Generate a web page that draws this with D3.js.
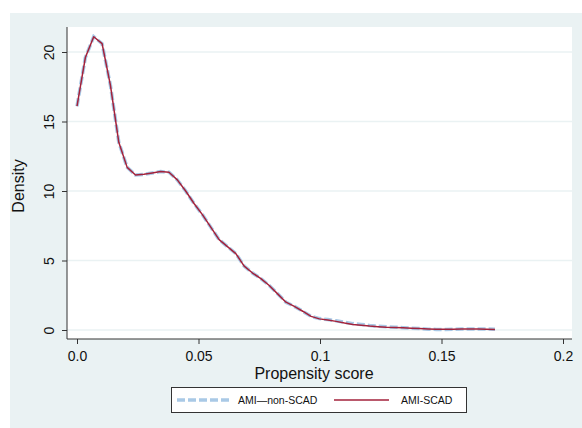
<!DOCTYPE html>
<html>
<head>
<meta charset="utf-8">
<script src="https://cdn.jsdelivr.net/npm/d3@7"></script>
<style>
  body { margin: 0; background: #fff; }
  svg { display: block; }
</style>
</head>
<body>
<div id="chart"></div>
<script>
// propensity score grid (x) and kernel density values
const step = 0.00344
const scadDensity = [16.1, 19.6, 21.1, 20.6, 17.6, 13.5, 11.7, 11.15, 11.2, 11.3,
  11.4, 11.35, 10.8, 10.0, 9.1, 8.3, 7.4, 6.5, 6.0, 5.5,
  4.6, 4.1, 3.7, 3.2, 2.6, 2.0, 1.7, 1.35, 0.98, 0.8,
  0.72, 0.62, 0.5, 0.4, 0.35, 0.28, 0.24, 0.2, 0.18, 0.16,
  0.13, 0.1, 0.07, 0.05, 0.05, 0.06, 0.08, 0.08, 0.07, 0.05, 0.03]
const nonScadDensity = [16.1, 19.6, 21.1, 20.6, 17.6, 13.5, 11.7, 11.15, 11.2, 11.3,
  11.4, 11.35, 10.8, 10.0, 9.1, 8.3, 7.4, 6.5, 6.0, 5.5,
  4.6, 4.1, 3.7, 3.2, 2.6, 2.0, 1.7, 1.35, 0.98, 0.82,
  0.75, 0.66, 0.55, 0.46, 0.4, 0.33, 0.28, 0.24, 0.2, 0.17,
  0.13, 0.1, 0.06, 0.04, 0.04, 0.05, 0.07, 0.08, 0.08, 0.07, 0.06]
const xTicks = [0, 0.05, 0.1, 0.15, 0.2]
const xTickLabels = ['0.0', '0.05', '0.1', '0.15', '0.2']
const yTicks = [0, 5, 10, 15, 20]
const seriesNames = ['AMI\u2014non-SCAD', 'AMI-SCAD']

const width = 582
const height = 428

const svg = d3.create('svg')
  .attr('width', width)
  .attr('height', height)
  .attr('font-family', 'Liberation Sans, Arial, sans-serif')

document.getElementById('chart').appendChild(svg.node())

// graph region + plot region (stata s2color look)
svg.append('rect')
  .attr('x', 10).attr('y', 13)
  .attr('width', width - 10).attr('height', height - 13)
  .attr('fill', '#eaf2f3')

svg.append('rect')
  .attr('x', 67).attr('y', 27)
  .attr('width', 572 - 67).attr('height', 339 - 27)
  .attr('fill', '#fff')

const x = d3.scaleLinear().domain([0, 0.2]).range([77, 563])
const y = d3.scaleLinear().domain([0, 20]).range([330, 52])

// gridlines
svg.append('g')
  .selectAll('line')
  .data(yTicks)
  .join('line')
    .attr('x1', 67).attr('x2', 572)
    .attr('y1', d => y(d)).attr('y2', d => y(d))
    .attr('stroke', '#eaf2f3')
    .attr('stroke-width', 1.5)

// y axis
const yAxis = svg.append('g')
  .attr('transform', 'translate(67,0)')
  .call(d3.axisLeft(y).tickValues(yTicks).tickSize(5).tickPadding(6))
yAxis.select('.domain').remove()
yAxis.append('line')
  .attr('x1', 0).attr('x2', 0).attr('y1', 27).attr('y2', 339)
  .attr('stroke', '#333')
yAxis.selectAll('.tick line').attr('stroke', '#333')
yAxis.selectAll('.tick text')
  .attr('font-size', 14)
  .attr('fill', '#111')
  .attr('text-anchor', 'middle')
  .attr('x', 0).attr('dy', 0)
  .attr('transform', 'translate(-13,0) rotate(-90)')
  .attr('y', 0)

// x axis
const xAxis = svg.append('g')
  .attr('transform', 'translate(0,339)')
  .call(d3.axisBottom(x).tickValues(xTicks).tickSize(5).tickPadding(7)
    .tickFormat((d, i) => xTickLabels[i]))
xAxis.select('.domain').remove()
xAxis.append('line')
  .attr('x1', 67).attr('x2', 572).attr('y1', 0).attr('y2', 0)
  .attr('stroke', '#333')
xAxis.selectAll('.tick line').attr('stroke', '#333')
xAxis.selectAll('.tick text')
  .attr('font-size', 14)
  .attr('fill', '#111')

// axis titles
svg.append('text')
  .attr('transform', 'translate(24,186) rotate(-90)')
  .attr('text-anchor', 'middle')
  .attr('font-size', 16)
  .attr('fill', '#111')
  .text('Density')

svg.append('text')
  .attr('x', 314).attr('y', 379)
  .attr('text-anchor', 'middle')
  .attr('font-size', 16)
  .attr('fill', '#111')
  .text('Propensity score')

// lines
const line = d3.line()
  .x((d, i) => x(i * step))
  .y(d => y(d))

svg.append('path')
  .datum(nonScadDensity)
  .attr('d', line)
  .attr('fill', 'none')
  .attr('stroke', '#a9c9e6')
  .attr('stroke-width', 3.5)
  .attr('stroke-dasharray', '8,3')

svg.append('path')
  .datum(scadDensity)
  .attr('d', line)
  .attr('fill', 'none')
  .attr('stroke', '#a3223b')
  .attr('stroke-width', 1.5)
  .attr('stroke-linejoin', 'round')

// legend
const legend = svg.append('g')
legend.append('rect')
  .attr('x', 171.5).attr('y', 387.5)
  .attr('width', 295).attr('height', 25)
  .attr('fill', '#fff')
  .attr('stroke', '#333')

legend.append('line')
  .attr('x1', 177).attr('x2', 232).attr('y1', 400).attr('y2', 400)
  .attr('stroke', '#a9c9e6')
  .attr('stroke-width', 3.5)
  .attr('stroke-dasharray', '8,3')
legend.append('text')
  .attr('x', 238).attr('y', 404)
  .attr('font-size', 10.5)
  .attr('fill', '#111')
  .text(seriesNames[0])

legend.append('line')
  .attr('x1', 334).attr('x2', 389).attr('y1', 400).attr('y2', 400)
  .attr('stroke', '#a3223b')
  .attr('stroke-width', 1.5)
legend.append('text')
  .attr('x', 401).attr('y', 404)
  .attr('font-size', 10.5)
  .attr('fill', '#111')
  .text(seriesNames[1])
</script>
</body>
</html>
